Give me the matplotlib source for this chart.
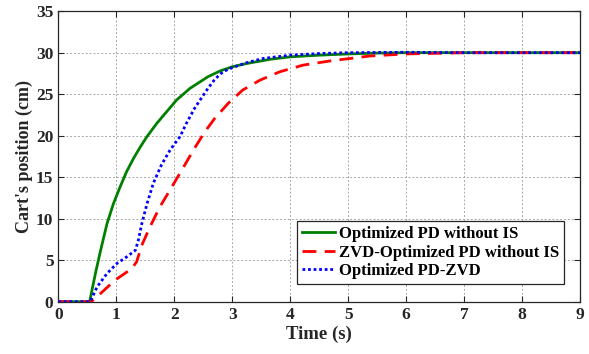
import matplotlib
matplotlib.use("Agg")
import matplotlib.pyplot as plt

# Data
t_green = [0, 0.54, 0.64, 0.73, 0.84, 0.95, 1.07, 1.18, 1.30, 1.41, 1.53, 1.70, 1.87, 2.04,
           2.27, 2.58, 2.79, 3.0, 3.25, 3.65, 4.0, 4.5, 5.0, 5.5, 6.0, 7.0, 8.0, 9.0]
y_green = [0, 0, 3.4, 6.2, 9.4, 11.8, 13.9, 15.7, 17.3, 18.6, 19.9, 21.5, 22.9, 24.3,
           25.7, 27.1, 27.8, 28.3, 28.7, 29.2, 29.5, 29.7, 29.85, 29.95, 30, 30, 30, 30]

t_red = [0, 0.57, 0.73, 0.98, 1.27, 1.35, 1.44, 1.58, 1.75, 1.93, 2.15, 2.35, 2.53, 2.70,
         2.93, 3.18, 3.48, 3.82, 4.22, 4.68, 5.03, 5.37, 6.0, 7.0, 8.0, 9.0]
y_red = [0, 0, 1.0, 2.6, 4.0, 4.8, 6.8, 9.0, 11.4, 13.5, 16.1, 18.5, 20.5, 22.1,
         23.9, 25.5, 26.7, 27.7, 28.5, 29.0, 29.3, 29.6, 29.85, 30, 30, 30]

t_blue = [0, 0.55, 0.67, 0.84, 1.01, 1.18, 1.33, 1.38, 1.44, 1.53, 1.64, 1.78, 1.93, 2.10,
          2.21, 2.35, 2.58, 2.70, 2.84, 3.0, 3.25, 3.53, 4.0, 4.5, 5.0, 6.0, 7.0, 8.0, 9.0]
y_blue = [0, 0, 1.8, 3.4, 4.6, 5.4, 6.2, 7.4, 9.4, 11.8, 14.3, 16.5, 18.3, 19.9,
          21.5, 23.3, 25.7, 26.8, 27.7, 28.2, 28.8, 29.3, 29.7, 29.9, 30.0, 30.05, 30, 30, 30]

labels = ["Optimized PD without IS", "ZVD-Optimized PD without IS", "Optimized PD-ZVD"]
x_ticks = list(range(0, 10))
y_ticks = list(range(0, 36, 5))

plt.rcParams['font.family'] = ['Liberation Serif', 'DejaVu Serif']
plt.rcParams['font.weight'] = 'bold'

fig = plt.figure(figsize=(5.89, 3.54), dpi=100)
ax = fig.add_axes([0.099, 0.1478, 0.886, 0.8206])

ax.plot(t_green, y_green, color='#008000', lw=2.0, linestyle='-', label=labels[0], zorder=3)
ax.plot(t_red, y_red, color='#ff0000', lw=2.0, linestyle=(0, (5, 3)), label=labels[1], zorder=4)
ax.plot(t_blue, y_blue, color='#0000ff', lw=2.0, linestyle=(0, (1, 1)), label=labels[2], zorder=5)

ax.set_xlim(0, 9)
ax.set_ylim(0, 35)
ax.set_xticks(x_ticks)
ax.set_yticks(y_ticks)
ax.grid(True, color='#a8a8a8', linestyle=(0, (2, 2)), lw=0.7)
ax.tick_params(direction='in', top=True, right=True, length=4, width=0.8,
               labelsize=12.5, colors='#262626')
for lab in ax.get_xticklabels() + ax.get_yticklabels():
    lab.set_fontweight('bold')
for sp in ax.spines.values():
    sp.set_color('#262626')
    sp.set_linewidth(0.9)

ax.set_xlabel("Time (s)", fontsize=13.5, fontweight='bold', color='#262626', labelpad=2)
ax.set_ylabel("Cart's position (cm)", fontsize=13, fontweight='bold', color='#262626', labelpad=2)

leg = ax.legend(loc='lower right', bbox_to_anchor=(0.9576, 0.1969),
                bbox_transform=fig.transFigure, fancybox=False, framealpha=1,
                edgecolor='#262626', handlelength=2.0, handletextpad=0.2,
                labelspacing=0.15, borderpad=0.3, borderaxespad=0,
                prop={'weight': 'bold', 'size': 12})
leg.get_frame().set_linewidth(0.9)

fig.savefig("out.png", dpi=100)
